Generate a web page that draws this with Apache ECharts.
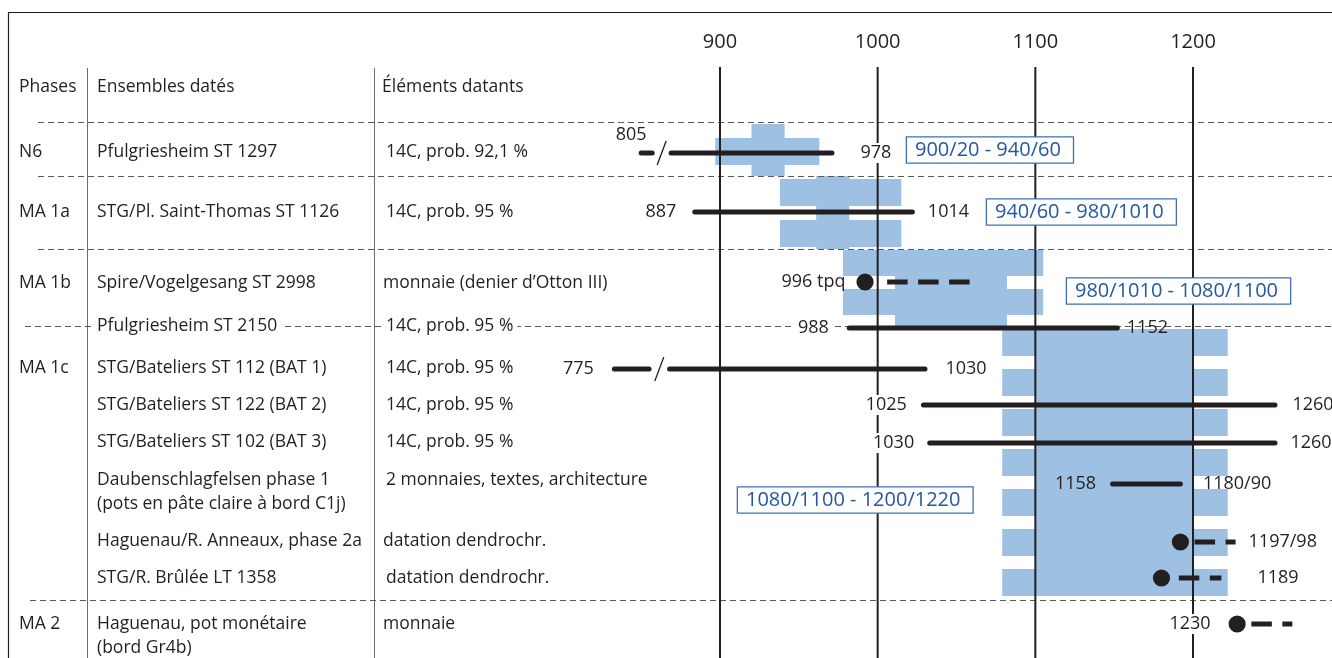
<!DOCTYPE html>
<html>
<head>
<meta charset="utf-8">
<title>Datation des phases</title>
<script src="https://cdn.jsdelivr.net/npm/echarts@6/dist/echarts.min.js"></script>
<style>
html, body { margin: 0; padding: 0; background: #fff; }
#chart { width: 1332px; height: 658px; }
</style>
</head>
<body>
<div id="chart"></div>
<script>
// années repères
var tickYears = [900, 1000, 1100, 1200];

// tableau de gauche
var headers = ['Phases', 'Ensembles datés', 'Éléments datants'];
var phaseNames = ['N6', 'MA 1a', 'MA 1b', 'MA 1c', 'MA 2'];
var phaseRows = [0, 1, 2, 4, 10];
var ensembles = [
    'Pfulgriesheim ST 1297',
    'STG/Pl. Saint-Thomas ST 1126',
    'Spire/Vogelgesang ST 2998',
    'Pfulgriesheim ST 2150',
    'STG/Bateliers ST 112 (BAT 1)',
    'STG/Bateliers ST 122 (BAT 2)',
    'STG/Bateliers ST 102 (BAT 3)',
    'Daubenschlagfelsen phase 1\n(pots en pâte claire à bord C1j)',
    'Haguenau/R. Anneaux, phase 2a',
    'STG/R. Brûlée LT 1358',
    'Haguenau, pot monétaire\n(bord Gr4b)'
];
var elements = [
    '14C, prob. 92,1 %',
    '14C, prob. 95 %',
    'monnaie (denier d’Otton III)',
    '14C, prob. 95 %',
    '14C, prob. 95 %',
    '14C, prob. 95 %',
    '14C, prob. 95 %',
    '2 monnaies, textes, architecture',
    'datation dendrochr.',
    'datation dendrochr.',
    'monnaie'
];

// fourchettes des phases (bandes bleues)
var periodLabels = ['900/20 - 940/60', '940/60 - 980/1010', '980/1010 - 1080/1100', '1080/1100 - 1200/1220'];
var periodOuterFrom = [897, 938, 978, 1079];
var periodInnerFrom = [920, 961, 1011, 1100];
var periodInnerTo = [941, 982, 1082, 1200];
var periodOuterTo = [963, 1015, 1105, 1222];

// intervalles (traits pleins), position tracée + texte
var rangeRows = [0, 1, 3, 4, 5, 6, 7];
var rangeFrom = [850, 884, 982, 833, 1029, 1033, 1149];
var rangeTo = [971, 1022, 1152, 1030, 1252, 1252, 1192];
var rangeBreakFrom = [857, null, null, 855, null, null, null];
var rangeBreakTo = [869, null, null, 868, null, null, null];
var rangeFromText = ['805', '887', '988', '775', '1025', '1030', '1158'];
var rangeToText = ['978', '1014', '1152', '1030', '1260', '1260', '1180/90'];

// dates ponctuelles (point + tirets)
var pointRows = [2, 8, 9, 10];
var pointYears = [992, 1192, 1180, 1228];
var pointTailFrom = [1006, 1201, 1191, 1237];
var pointTailTo = [1060, 1227, 1218, 1263];
var pointText = ['996 tpq', '1197/98', '1189', '1230'];

// ---- mise en page ----
var INK = '#231f20';
var BLUE = '#9dc0e3';
var BOX_BLUE = '#2457a4';
var FONT = '"Open Sans", "Noto Sans", sans-serif';
var PX_PER_YEAR = 1.5767;
var X_AT_900 = 720;
var xMin = 900 - X_AT_900 / PX_PER_YEAR;
var xMax = 900 + (1332 - X_AT_900) / PX_PER_YEAR;
var GRID_TOP = 67;

var rowY = [153, 212, 282, 328, 369, 405, 443, 484, 542, 578, 624];
var textY = [152, 212, 283, 326, 368, 405, 442, 480, 541, 578, 624];
var sepY = [122, 176, 249, 326, 600];
var sepX0 = [38, 38, 38, 25, 30];
var colX = [19, 97, 382];
var elemX = [386, 386, 383, 386, 386, 386, 386, 386, 383, 386, 383];
var colLines = [87, 374];
var boxPos = [[907, 150], [987, 212], [1067, 291], [738, 500]];
var rangeFromOffset = [[11, -18], [-13, 0], [-15, 0], [-15, 0], [-11, 0], [-10, 0], [-14, 0]];
var rangeToGap = [23, 10, 7, 15, 12, 10, 20];
var rangeFromBg = [true, true, true, true, true, true, false];
var rangeToBg = [true, true, false, true, true, true, false];
var pointTextSide = ['left', 'right', 'right', 'left'];
var pointTextGap = [11, 13, 36, 15];
var pointTextBg = [false, false, false, true];

function stripes(top, height, step, count) {
    var out = [];
    for (var k = 0; k < count; k++) {
        out.push([top + k * step, top + k * step + height]);
    }
    return out;
}
var bandLayout = [
    { inner: [124, 176], outer: [[138, 165]] },
    { inner: [176, 249], outer: [[179, 206], [220, 247]] },
    { inner: [250, 327], outer: [[250, 276], [289, 315]] },
    { inner: [329, 596], outer: stripes(329, 27, 40, 7) }
];

function numText(text, x, y, align, bg) {
    return {
        type: 'text',
        style: {
            text: text, x: x, y: y, align: align, verticalAlign: 'middle',
            font: '18px ' + FONT, fill: INK,
            backgroundColor: bg ? '#fff' : null, padding: bg ? [1, 3] : 0
        }
    };
}

//bandes bleues
function renderBand(params, api) {
    var lay = bandLayout[params.dataIndex];
    var children = [];
    function rect(x0, x1, y0, y1) {
        var p0 = api.coord([x0, y0]);
        var p1 = api.coord([x1, y1]);
        children.push({
            type: 'rect',
            shape: { x: p0[0], y: p0[1], width: p1[0] - p0[0], height: p1[1] - p0[1] },
            style: { fill: BLUE }
        });
    }
    lay.outer.forEach(function (b) {
        rect(api.value(0), api.value(3), b[0], b[1]);
    });
    rect(api.value(1), api.value(2), lay.inner[0], lay.inner[1]);
    return { type: 'group', children: children };
}

//traits verticaux des siècles
function renderYearLine(params, api) {
    var p0 = api.coord([api.value(0), GRID_TOP]);
    var p1 = api.coord([api.value(0), 658]);
    return {
        type: 'line',
        shape: { x1: p0[0], y1: p0[1], x2: p1[0], y2: p1[1] },
        style: { stroke: INK, lineWidth: 2 }
    };
}

//intervalles
function renderRange(params, api) {
    var i = params.dataIndex;
    var y = api.value(2);
    var a = api.coord([api.value(0), y]);
    var b = api.coord([api.value(1), y]);
    var lineStyle = { stroke: INK, lineWidth: 5, lineCap: 'round' };
    var children = [];
    var off = rangeFromOffset[i];
    children.push(numText(rangeFromText[i], a[0] - 2.5 + off[0], a[1] + off[1], 'right', rangeFromBg[i]));
    children.push(numText(rangeToText[i], b[0] + 2.5 + rangeToGap[i], b[1], 'left', rangeToBg[i]));
    var start = a;
    if (rangeBreakFrom[i] != null) {
        var c = api.coord([rangeBreakFrom[i], y]);
        var d = api.coord([rangeBreakTo[i], y]);
        children.push({ type: 'line', shape: { x1: a[0], y1: a[1], x2: c[0], y2: c[1] }, style: lineStyle });
        var m = (c[0] + d[0]) / 2;
        children.push({
            type: 'line',
            shape: { x1: m - 4.5, y1: a[1] + 12, x2: m + 4.5, y2: a[1] - 12 },
            style: { stroke: INK, lineWidth: 1.3 }
        });
        start = d;
    }
    children.push({ type: 'line', shape: { x1: start[0], y1: start[1], x2: b[0], y2: b[1] }, style: lineStyle });
    return { type: 'group', children: children };
}

//points + tirets
function renderPoint(params, api) {
    var i = params.dataIndex;
    var y = api.value(3);
    var p = api.coord([api.value(0), y]);
    var t0 = api.coord([api.value(1), y]);
    var t1 = api.coord([api.value(2), y]);
    var r = 8.6;
    var children = [
        { type: 'circle', shape: { cx: p[0], cy: p[1], r: r }, style: { fill: INK } },
        {
            type: 'line',
            shape: { x1: t0[0], y1: t0[1], x2: t1[0], y2: t1[1] },
            style: { stroke: INK, lineWidth: 5, lineDash: [20.5, 10.5], lineCap: 'butt' }
        }
    ];
    if (pointTextSide[i] === 'left') {
        children.push(numText(pointText[i], p[0] - r - pointTextGap[i], p[1], 'right', pointTextBg[i]));
    } else {
        children.push(numText(pointText[i], t1[0] + pointTextGap[i], p[1], 'left', pointTextBg[i]));
    }
    return { type: 'group', children: children };
}

// éléments fixes : cadre, colonnes, séparateurs, textes du tableau, cartouches
var graphics = [];
graphics.push({
    type: 'polyline', z: 3,
    shape: { points: [[8.5, 658], [8.5, 12.5], [1332, 12.5]] },
    style: { stroke: INK, lineWidth: 1.2, fill: null }
});
colLines.forEach(function (x) {
    graphics.push({
        type: 'line', z: 3,
        shape: { x1: x + 0.5, y1: 68, x2: x + 0.5, y2: 658 },
        style: { stroke: '#6d6e71', lineWidth: 1 }
    });
});
sepY.forEach(function (y, i) {
    graphics.push({
        type: 'line', z: 3,
        shape: { x1: sepX0[i], y1: y + 0.5, x2: 1332, y2: y + 0.5 },
        style: { stroke: '#58595b', lineWidth: 1, lineDash: [6, 4] }
    });
});
function tableText(text, x, y) {
    text.split('\n').forEach(function (line, k) {
        graphics.push({
            type: 'text', z: 10,
            style: {
                text: line, x: x - 4, y: y + k * 24, verticalAlign: 'middle',
                font: '17.5px ' + FONT, fill: INK, backgroundColor: '#fff', padding: [0, 4]
            }
        });
    });
}
headers.forEach(function (h, i) {
    tableText(h, colX[i], 87);
});
phaseNames.forEach(function (p, i) {
    tableText(p, colX[0], textY[phaseRows[i]]);
});
ensembles.forEach(function (e, i) {
    tableText(e, colX[1], textY[i]);
});
elements.forEach(function (e, i) {
    tableText(e, elemX[i], textY[i]);
});
periodLabels.forEach(function (t, i) {
    graphics.push({
        type: 'text', z: 20,
        style: {
            text: t, x: boxPos[i][0], y: boxPos[i][1], verticalAlign: 'middle',
            font: '20px ' + FONT, fill: BOX_BLUE,
            backgroundColor: '#fff', borderColor: '#3f6fb5', borderWidth: 1.3,
            padding: [3, 12, 2, 8]
        }
    });
});

var chart = echarts.init(document.getElementById('chart'));
chart.setOption({
    animation: false,
    grid: { left: 0, right: 0, top: GRID_TOP, bottom: 0 },
    xAxis: {
        type: 'value',
        position: 'top',
        min: xMin,
        max: xMax,
        axisLine: { show: false },
        axisTick: { show: false },
        splitLine: { show: false },
        axisLabel: {
            customValues: tickYears,
            formatter: function (v) { return String(v); },
            margin: 15,
            fontSize: 20,
            fontFamily: FONT,
            color: INK
        }
    },
    yAxis: { type: 'value', min: GRID_TOP, max: 658, inverse: true, show: false },
    graphic: { elements: graphics },
    series: [
        {
            name: 'phases',
            type: 'custom',
            z: 2,
            renderItem: renderBand,
            encode: { x: [0, 1, 2, 3] },
            data: periodOuterFrom.map(function (v, i) {
                return [v, periodInnerFrom[i], periodInnerTo[i], periodOuterTo[i]];
            })
        },
        {
            name: 'siècles',
            type: 'custom',
            z: 3,
            renderItem: renderYearLine,
            encode: { x: 0 },
            data: tickYears.map(function (v) { return [v]; })
        },
        {
            name: 'intervalles',
            type: 'custom',
            z: 5,
            renderItem: renderRange,
            encode: { x: [0, 1], y: 2 },
            data: rangeFrom.map(function (v, i) {
                return [v, rangeTo[i], rowY[rangeRows[i]]];
            })
        },
        {
            name: 'dates',
            type: 'custom',
            z: 5,
            renderItem: renderPoint,
            encode: { x: [0, 1, 2], y: 3 },
            data: pointYears.map(function (v, i) {
                return [v, pointTailFrom[i], pointTailTo[i], rowY[pointRows[i]]];
            })
        }
    ]
});
</script>
</body>
</html>
